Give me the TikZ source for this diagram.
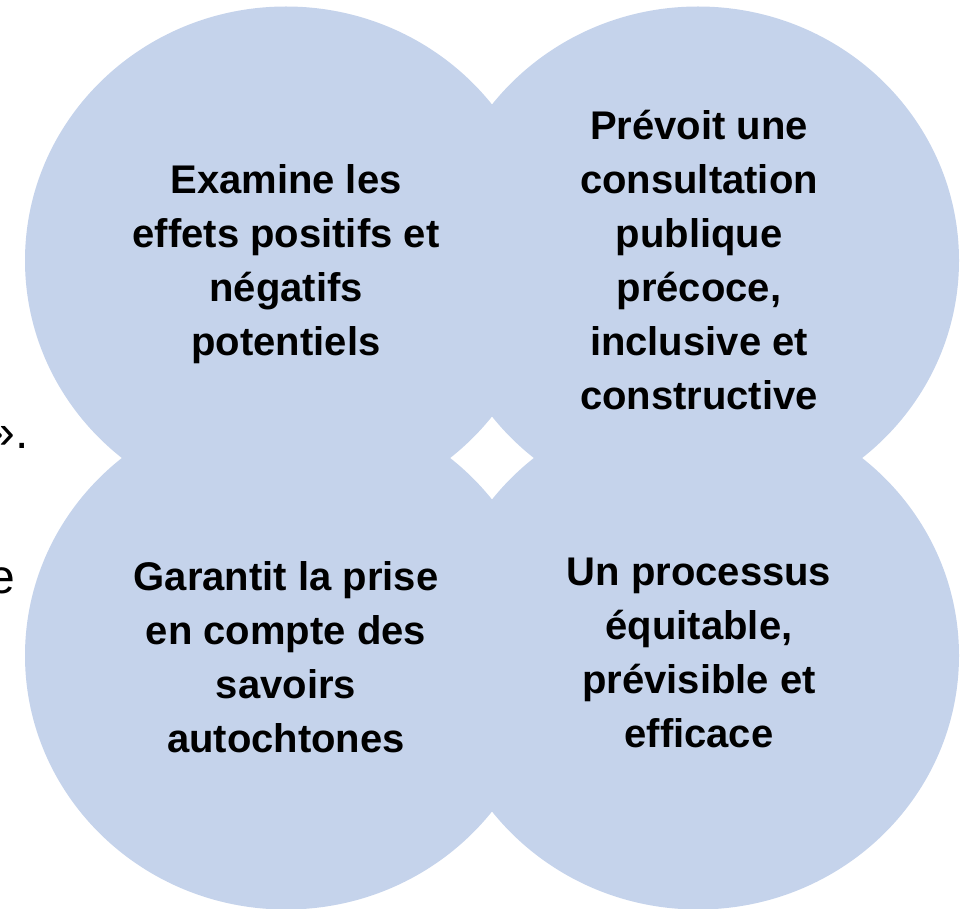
\documentclass[tikz,border=0pt]{standalone}
\usepackage{fontspec}
\setmainfont{Liberation Sans}
\definecolor{bulle}{HTML}{C5D3EB}
\tikzset{bulle/.style={fill=bulle},
  texte/.style={font=\bfseries\fontsize{30}{40.5}\selectfont,align=center,text=black},
  reste/.style={font=\fontsize{36}{40}\selectfont,inner sep=0pt,anchor=base east}}

\begin{document}
\begin{tikzpicture}[x=0.75pt,y=-0.75pt]
\useasboundingbox (0,0) rectangle (961,909);
\clip (0,0) rectangle (961,909);
% centres des bulles
\coordinate (HG) at (286,260.5);
\coordinate (HD) at (698,260.5);
\coordinate (BG) at (286,655.5);
\coordinate (BD) at (698,655.5);
\foreach \c in {HG,HD,BG,BD}
  \fill[bulle] (\c) ellipse [x radius=195.75pt, y radius=190.5pt];
% texte coupe a gauche
\node[reste] (guillemet) at (29,448) {».};
\node[reste] (lettre) at (15,593) {e};
% textes des bulles
\node[texte] (examine) at (286,264) {Examine les\\effets positifs et\\négatifs\\potentiels};
\node[texte] (prevoit) at (699,260) {Prévoit une\\consultation\\publique\\précoce,\\inclusive et\\constructive};
\node[texte] (garantit) at (286,657) {Garantit la prise\\en compte des\\savoirs\\autochtones};
\node[texte] (processus) at (699,653) {Un processus\\équitable,\\prévisible et\\efficace};
\end{tikzpicture}
\end{document}
